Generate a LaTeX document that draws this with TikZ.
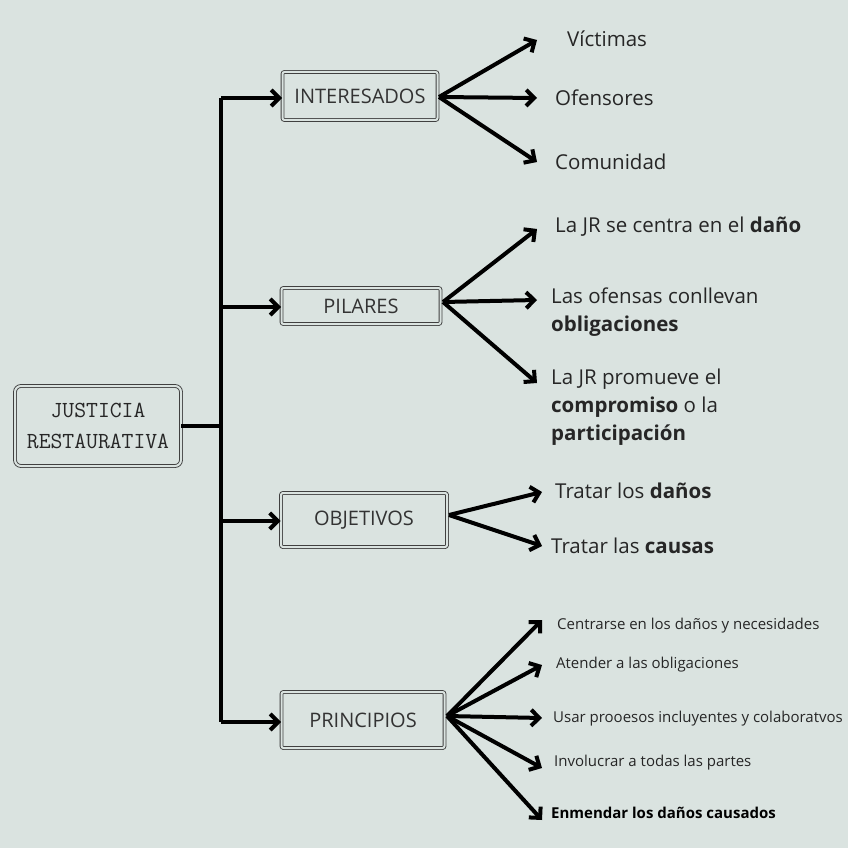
\documentclass[tikz,border=0pt]{standalone}
\usepackage{fontspec}
\setmainfont{Open Sans}
\usetikzlibrary{arrows.meta}
\definecolor{bg}{HTML}{DAE3E0}
\begin{document}
\begin{tikzpicture}[x=1pt,y=-1pt,
  box/.style={draw=black!75,double=bg,double distance=2pt,line width=0.9pt,rounded corners=2pt,font=\fontsize{20}{22}\selectfont\color{black!80}},
  conn/.style={line width=4pt,-{Straight Barb[length=8pt,width=16pt]}},
  lbl/.style={anchor=west,align=left,inner sep=0pt,font=\fontsize{20.5}{28}\selectfont\color{black!85}},
  sml/.style={anchor=west,inner sep=0pt,font=\fontsize{15}{18}\selectfont\color{black!85}}]
\fill[bg] (0,0) rectangle (848,848);
\useasboundingbox (0,0) rectangle (848,848);
\node[box,rounded corners=6pt,minimum width=166pt,minimum height=80pt,align=center,font=\ttfamily\fontsize{23}{31}\selectfont\color{black!85}] (root) at (98,426) {JUSTICIA\\RESTAURATIVA};
\node[box,minimum width=155pt,minimum height=48pt] (int) at (360,96) {INTERESADOS};
\node[box,minimum width=159pt,minimum height=36pt] (pil) at (361,306) {PILARES};
\node[box,minimum width=166pt,minimum height=54pt] (obj) at (364,520) {OBJETIVOS};
\node[box,minimum width=163pt,minimum height=56pt] (pri) at (363,720) {PRINCIPIOS};
\coordinate (t0) at (221,98);
\coordinate (t1) at (221,307);
\coordinate (t2) at (221,521);
\coordinate (t3) at (221,722);
\coordinate (tr) at (221,426);
\draw[line width=4pt] (root.east |- tr) -- (tr);
\draw[line width=4pt] (t0) -- (t3);
\draw[conn] (t0) -- (int.west |- t0);
\draw[conn] (t1) -- (pil.west |- t1);
\draw[conn] (t2) -- (obj.west |- t2);
\draw[conn] (t3) -- (pri.west |- t3);
% INTERESADOS
\coordinate (a0) at (439,97);
\node[lbl] (v) at (567,39) {Víctimas};
\node[lbl] (o) at (555,98) {Ofensores};
\node[lbl] (c) at (555,162) {Comunidad};
\coordinate (e1) at (537,40);\coordinate (e2) at (537,98);\coordinate (e3) at (537,162);
\foreach \e in {e1,e2,e3} \draw[conn] (a0) -- (\e);
% PILARES
\coordinate (b0) at (443,302);
\node[lbl] (p1) at (555,227) {La JR se centra en el \textbf{daño}};
\node[lbl] (p2) at (551,312) {Las ofensas conllevan\\\textbf{obligaciones}};
\node[lbl] (p3) at (551,407) {La JR promueve el\\\textbf{compromiso} o la\\\textbf{participación}};
\coordinate (f1) at (537,229);\coordinate (f2) at (537,300);\coordinate (f3) at (537,383);
\foreach \e in {f1,f2,f3} \draw[conn] (b0) -- (\e);
% OBJETIVOS
\coordinate (c0) at (449,515);
\node[lbl] (q1) at (555,491) {Tratar los \textbf{daños}};
\node[lbl] (q2) at (551,546) {Tratar las \textbf{causas}};
\coordinate (g1) at (542,492);\coordinate (g2) at (542,546);
\foreach \e in {g1,g2} \draw[conn] (c0) -- (\e);
% PRINCIPIOS
\coordinate (d0) at (447,716);
\node[sml] (r1) at (557,626) {Centrarse en los daños y necesidades};
\node[sml] (r2) at (556,665) {Atender a las obligaciones};
\node[sml] (r3) at (553,719) {Usar prooesos incluyentes y colaboratvos};
\node[sml] (r4) at (554,763) {Involucrar a todas las partes};
\node[sml,font=\bfseries\fontsize{15}{18}\selectfont] (r5) at (551,813) {Enmendar los daños causados};
\coordinate (h1) at (542,620);\coordinate (h2) at (542,665);\coordinate (h3) at (542,718);\coordinate (h4) at (542,768);\coordinate (h5) at (542,820);
\foreach \e in {h1,h2,h3,h4,h5} \draw[conn] (d0) -- (\e);
\end{tikzpicture}
\end{document}
